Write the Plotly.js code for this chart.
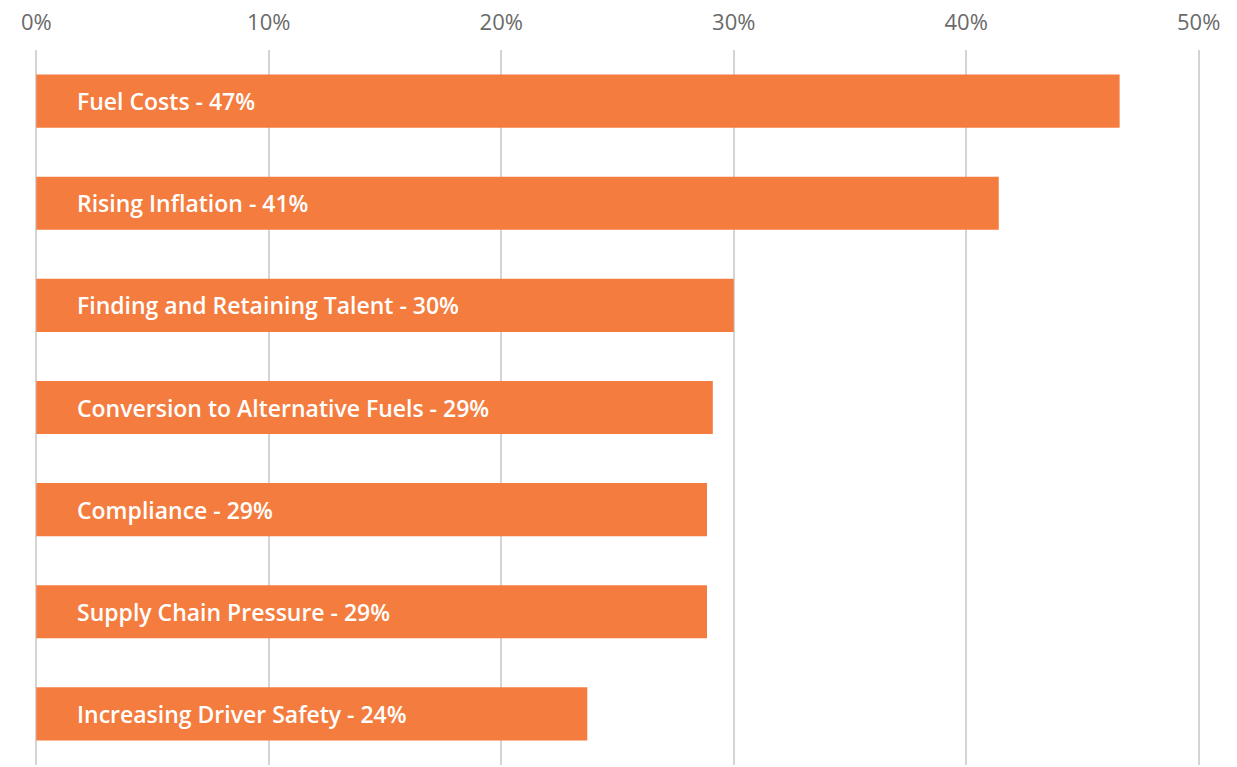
<!DOCTYPE html>
<html>
<head>
<meta charset="utf-8">
<script src="https://cdn.plot.ly/plotly-3.0.1.min.js"></script>
<style>html,body{margin:0;padding:0;background:#fff;}#chart{width:1237px;height:767px;}</style>
</head>
<body>
<div id="chart"></div>
<script>
const categories = ["Fuel Costs", "Rising Inflation", "Finding and Retaining Talent", "Conversion to Alternative Fuels", "Compliance", "Supply Chain Pressure", "Increasing Driver Safety"];
const values = [46.6, 41.4, 30.0, 29.1, 28.85, 28.85, 23.7];
const labelPercents = ["47%", "41%", "30%", "29%", "29%", "29%", "24%"];
const tickVals = [0, 10, 20, 30, 40, 50];
const tickText = ["0%", "10%", "20%", "30%", "40%", "50%"];

const trace = {
  type: "bar",
  orientation: "h",
  y: categories,
  x: values,
  marker: {color: "#F47C3E"},
  hoverinfo: "none"
};

const annotations = categories.map((c, i) => ({
  x: 0, y: c, xref: "x", yref: "y",
  text: c + " - " + labelPercents[i],
  showarrow: false, xanchor: "left", xshift: 39,
  font: {family: "Open Sans, sans-serif", size: 23, weight: 600, color: "#ffffff"}
}));

const layout = {
  width: 1237, height: 767,
  margin: {l: 34, r: 36, t: 50, b: 2},
  paper_bgcolor: "#ffffff", plot_bgcolor: "#ffffff",
  showlegend: false,
  bargap: 0.48,
  xaxis: {
    side: "top", range: [-0.1, 50.1], tickvals: tickVals, ticktext: tickText,
    showgrid: true, gridcolor: "#d4d4d4", gridwidth: 2,
    zeroline: false, showline: false, ticks: "",
    ticklabelstandoff: 15,
    tickfont: {family: "Open Sans, sans-serif", size: 22, color: "#6a6a6a"},
    fixedrange: true
  },
  yaxis: {
    autorange: "reversed", showticklabels: false, showgrid: false,
    zeroline: false, showline: false, ticks: "", fixedrange: true
  },
  annotations: annotations
};

Plotly.newPlot("chart", [trace], layout, {displayModeBar: false, staticPlot: true});
</script>
</body>
</html>
